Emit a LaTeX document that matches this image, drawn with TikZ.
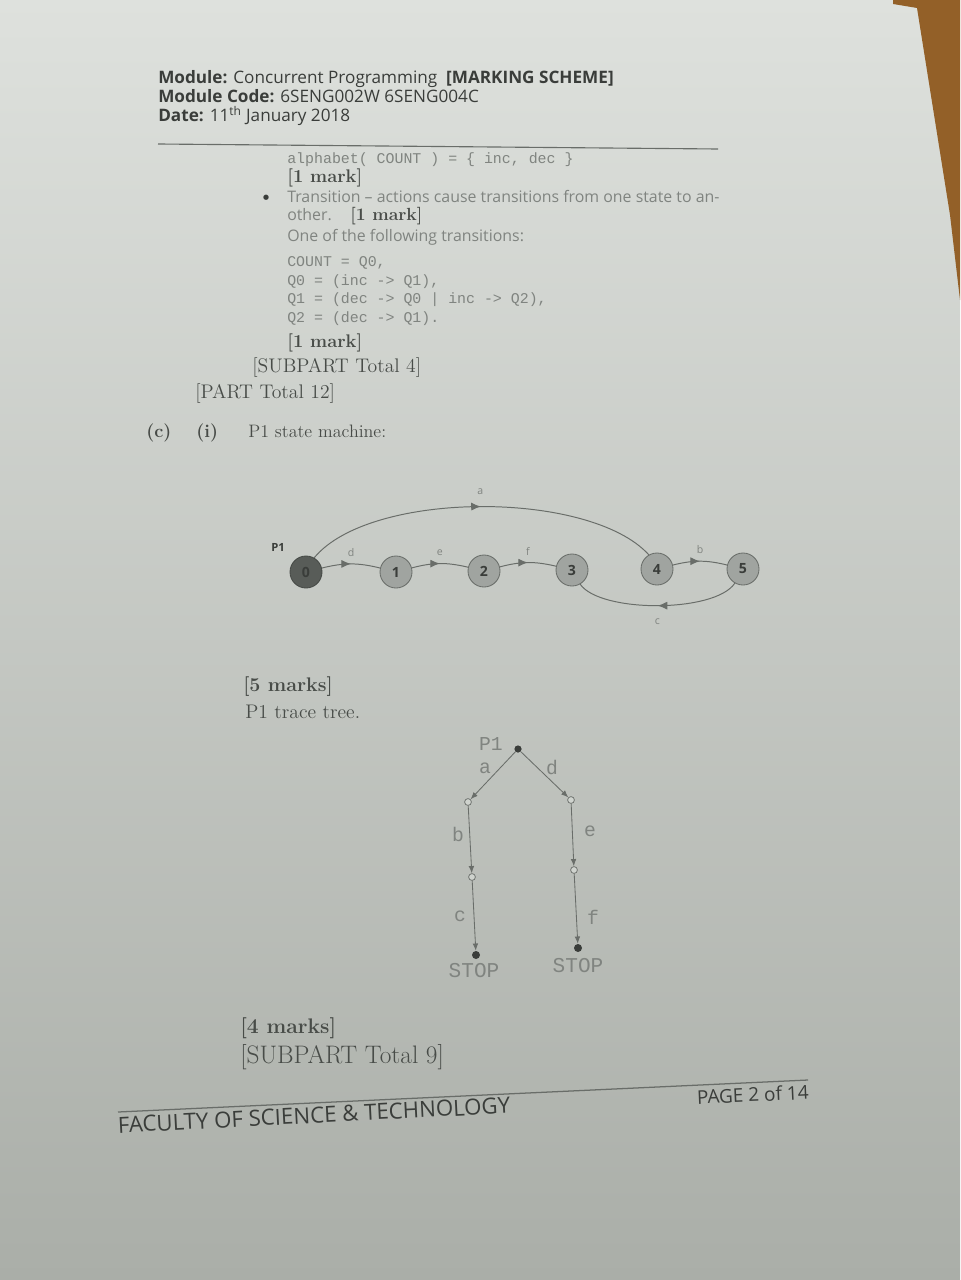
\documentclass[tikz,border=0pt]{standalone}
\usepackage{fontspec}
\newfontfamily\hsans{Open Sans}
\newfontfamily\cmono{Liberation Mono}
\usetikzlibrary{arrows.meta,decorations.markings,calc}
\definecolor{pagetop}{RGB}{222,225,221}
\definecolor{pagemid}{RGB}{207,211,206}
\definecolor{pagebot}{RGB}{170,174,168}
\definecolor{wood}{RGB}{147,96,40}
\definecolor{txt}{RGB}{72,76,72}
\definecolor{htxt}{RGB}{58,61,58}
\definecolor{codetxt}{RGB}{128,132,128}
\definecolor{linec}{RGB}{105,109,105}
\definecolor{darkstate}{RGB}{88,92,88}
\definecolor{lightstate}{RGB}{160,164,160}
\tikzset{
  txtline/.style={anchor=base west, inner sep=0pt, text=txt, font=\fontsize{14}{17}\selectfont},
  markline/.style={txtline, font=\fontsize{13}{16}\selectfont\bfseries},
  hdr/.style={anchor=base west, inner sep=0pt, text=htxt, font=\hsans\fontsize{12.2}{14}\selectfont, text height=0.72em, text depth=0.1em},
  sansline/.style={anchor=base west, inner sep=0pt, text=codetxt, font=\hsans\fontsize{11.3}{13}\selectfont},
  codeline/.style={anchor=base west, inner sep=0pt, text=codetxt, font=\cmono\fontsize{10.6}{12}\selectfont},
  state/.style={circle, draw=linec, line width=0.6pt, fill=lightstate, minimum size=8mm, inner sep=0pt, text=htxt, font=\hsans\bfseries\fontsize{10}{12}\selectfont},
  startstate/.style={state, fill=darkstate, draw=darkstate!80!black},
  smlabel/.style={inner sep=0pt, text=codetxt, font=\hsans\fontsize{7.5}{8}\selectfont},
  midarrow/.style={draw=linec, line width=0.7pt, postaction={decorate}, decoration={markings, mark=at position 0.5 with {\arrow{Latex[length=2.4mm,width=2mm]}}}},
  tnode/.style={circle, draw=linec, fill=pagemid, line width=0.5pt, minimum size=1.7mm, inner sep=0pt},
  tdot/.style={circle, fill=htxt, minimum size=2mm, inner sep=0pt},
  tedge/.style={draw=linec, line width=0.6pt, -{Latex[length=1.8mm,width=1.4mm]}},
  tlabel/.style={inner sep=0pt, text=codetxt, font=\cmono\fontsize{14}{16}\selectfont},
  foot/.style={anchor=base west, inner sep=0pt, text=htxt, font=\hsans\fontsize{15.8}{18}\selectfont}
}
\begin{document}
\begin{tikzpicture}[x=0.025cm,y=0.025cm]
% background
\useasboundingbox (0,0) rectangle (960,-1280);
\shade[top color=pagetop, middle color=pagemid, bottom color=pagebot] (0,0) rectangle (960,-1280);
\fill[wood] (893,0) -- (960,0) -- (960,-300) -- (950,-215) -- (917,-8) -- (893,-4) -- cycle;

% header
\node[hdr] (h1) at (158,-84) {\bfseries Module: \mdseries Concurrent Programming\ \ \bfseries [MARKING SCHEME]};
\node[hdr] (h2) at (158,-103) {\bfseries Module Code: \mdseries 6SENG002W 6SENG004C};
\node[hdr] (h3) at (158,-122) {\bfseries Date: \mdseries 11\textsuperscript{th} January 2018};
\draw[linec, line width=0.8pt] (158,-144) -- (718,-149);

% body text
\node[codeline] (c0) at (287,-164) {alphabet( COUNT ) = \{ inc, dec \}};
\node[markline] (m1) at (287,-183) {[1 mark]};
\node[text=htxt, font=\fontsize{14}{16}\selectfont, inner sep=0pt] (bul) at (266,-199) {\textbullet};
\node[sansline] (t1) at (287,-203) {Transition – actions cause transitions from one state to an-};
\node[sansline] (t2) at (287,-221) {other.};
\node[markline, font=\fontsize{12.5}{14}\selectfont\bfseries] (m2) at (350,-221) {[1 mark]};
\node[sansline] (t3) at (287,-241) {One of the following transitions:};
\node[codeline] (c1) at (287,-267) {COUNT = Q0,};
\node[codeline] (c2) at (287,-285) {Q0 = (inc -> Q1),};
\node[codeline] (c3) at (287,-303) {Q1 = (dec -> Q0 | inc -> Q2),};
\node[codeline] (c4) at (287,-322) {Q2 = (dec -> Q1).};
\node[markline] (m3) at (287,-347) {[1 mark]};
\node[txtline] (sp4) at (252,-372) {[SUBPART Total 4]};
\node[txtline] (pt12) at (195,-398) {[PART Total 12]};
\node[markline] (lc) at (146,-437) {(c)};
\node[markline] (li) at (196,-437) {(i)};
\node[txtline, font=\fontsize{12.8}{15}\selectfont] (psm) at (248,-437) {P1 state machine:};

% state machine
\node[startstate] (s0) at (306,-572) {0};
\node[state] (s1) at (396,-572) {1};
\node[state] (s2) at (484,-571) {2};
\node[state] (s3) at (572,-570) {3};
\node[state] (s4) at (657,-569) {4};
\node[state] (s5) at (743,-569) {5};
\node[smlabel, text=htxt, font=\hsans\bfseries\fontsize{8}{9}\selectfont] (p1sm) at (278,-547) {P1};

\draw[midarrow] (s0) to[bend left=14] node[smlabel, above=5pt] (ld) {d} (s1);
\draw[midarrow] (s1) to[bend left=14] node[smlabel, above=5pt] (le) {e} (s2);
\draw[midarrow] (s2) to[bend left=14] node[smlabel, above=5pt] (lf) {f} (s3);
\draw[midarrow] (s4) to[bend left=14] node[smlabel, above=5pt] (lb) {b} (s5);
\draw[midarrow] (s0.60) .. controls (370,-490) and (590,-490) .. node[smlabel, above=8pt] (la) {a} (s4.120);
\draw[midarrow] (s5.-120) .. controls (715,-613) and (600,-613) .. node[smlabel, below=9pt] (lc2) {c} (s3.-60);

\node[markline, font=\fontsize{14}{17}\selectfont\bfseries] (m5) at (243,-691) {[5 marks]};
\node[txtline] (ptt) at (245,-718) {P1 trace tree.};

% trace tree
\node[tdot, minimum size=1.8mm] (r) at (518,-749) {};
\node[tlabel, anchor=east] (rl) at (503,-744) {P1};
\node[tnode] (a1) at (468,-802) {};
\node[tnode] (d1) at (571,-800) {};
\node[tnode] (b1) at (472,-877) {};
\node[tnode] (e1) at (574,-870) {};
\node[tdot] (c1s) at (476,-955) {};
\node[tdot] (f1s) at (578,-948) {};
\draw[tedge] (r) -- (a1);
\draw[tedge] (r) -- (d1);
\draw[tedge] (a1) -- (b1);
\draw[tedge] (b1) -- (c1s);
\draw[tedge] (d1) -- (e1);
\draw[tedge] (e1) -- (f1s);
\node[tlabel] (la2) at (485,-768) {a};
\node[tlabel] (ld2) at (552,-767) {d};
\node[tlabel] (lb2) at (458,-834) {b};
\node[tlabel] (lc3) at (460,-916) {c};
\node[tlabel] (le2) at (590,-831) {e};
\node[tlabel] (lf2) at (593,-917) {f};
\node[tlabel, font=\cmono\fontsize{15}{17}\selectfont] (stop1) at (474,-971) {STOP};
\node[tlabel, font=\cmono\fontsize{15}{17}\selectfont] (stop2) at (578,-966) {STOP};

\node[markline, font=\fontsize{15}{18}\selectfont\bfseries] (m4) at (240,-1033) {[4 marks]};
\node[txtline, font=\fontsize{18}{21}\selectfont] (sp9) at (240,-1063) {[SUBPART Total 9]};

% footer
\draw[linec, line width=0.9pt] (118,-1112) -- (808,-1080);
\node[foot, rotate=2.9] (fac) at (118,-1133) {FACULTY OF SCIENCE \& TECHNOLOGY};
\node[foot, font=\hsans\fontsize{13.5}{15}\selectfont, rotate=2.5] (pg) at (697,-1104) {PAGE 2 of 14};
\end{tikzpicture}
\end{document}
